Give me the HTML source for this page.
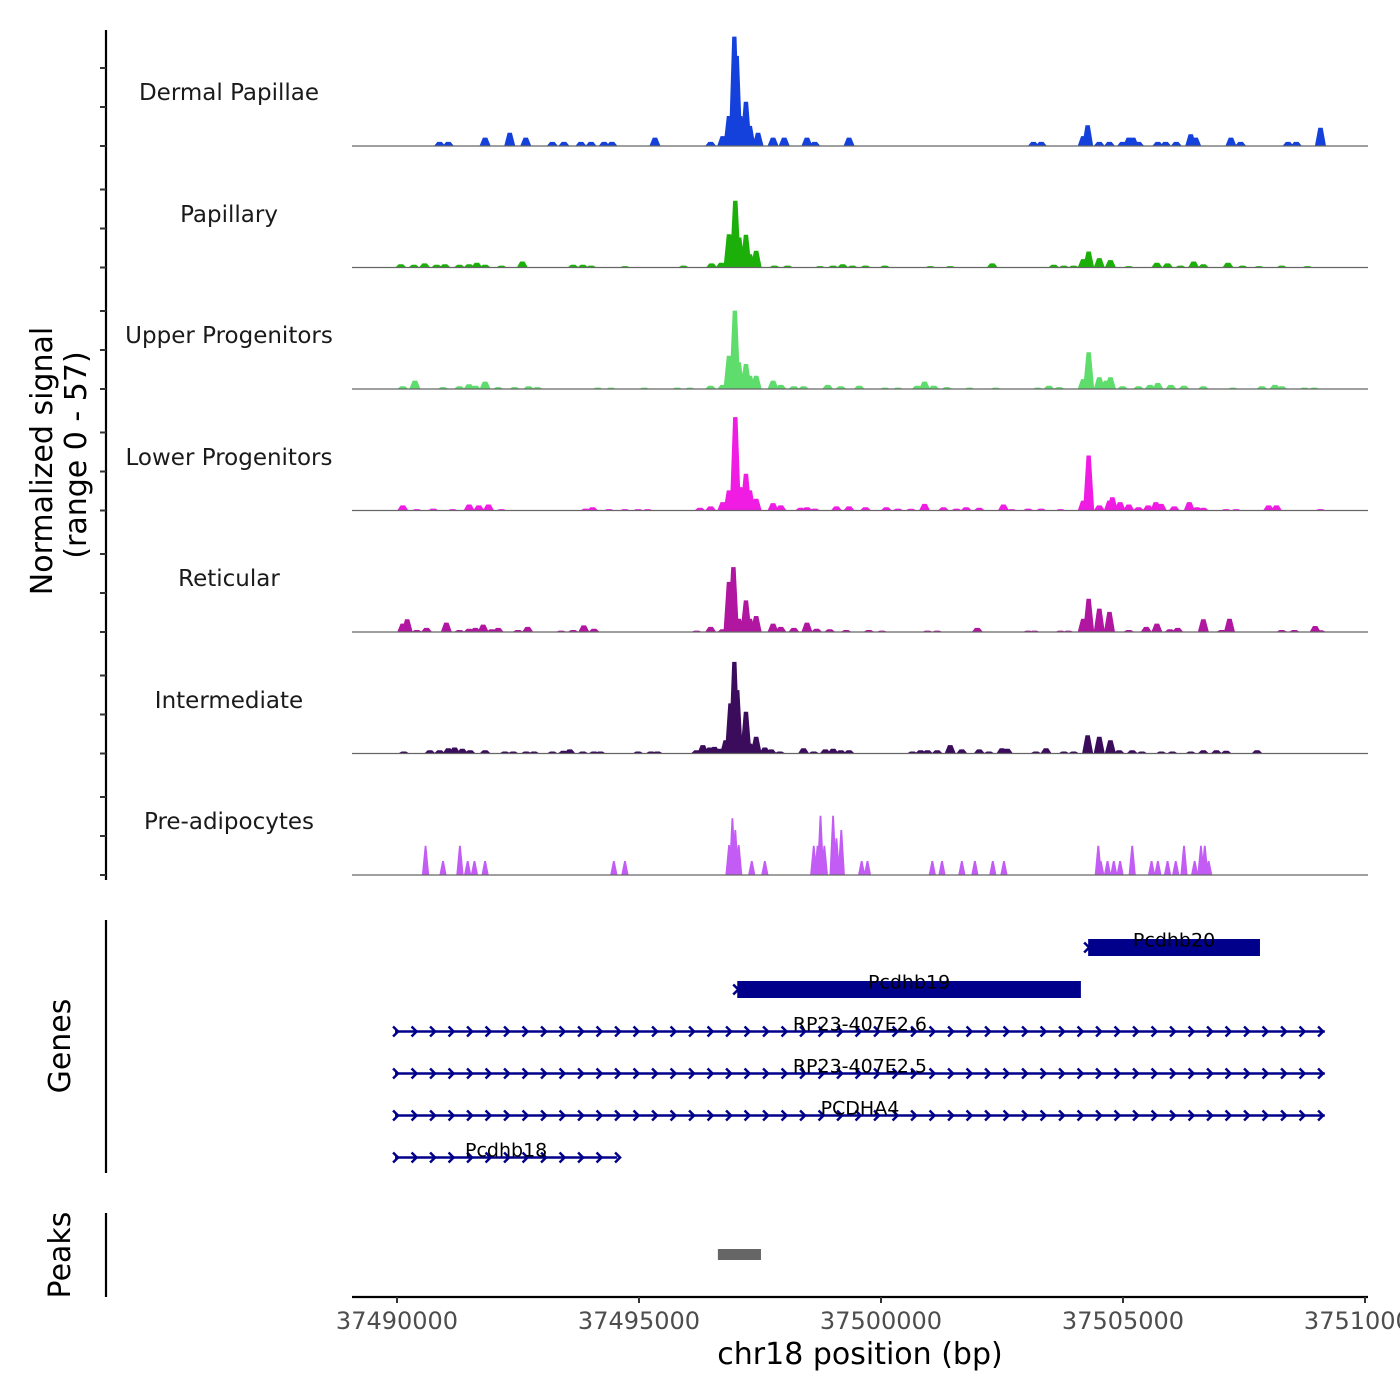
<!DOCTYPE html>
<html><head><meta charset="utf-8">
<style>
html,body{margin:0;padding:0;background:#fff;}
svg{display:block;font-family:"DejaVu Sans","Liberation Sans",sans-serif;}
</style></head>
<body>
<svg id="chart" width="1400" height="1400" viewBox="0 0 1400 1400" xmlns="http://www.w3.org/2000/svg">
  <g id="tracks"></g>
  <g id="labels"></g>
  <g id="yaxis">
    <line x1="106" y1="30" x2="106" y2="880" stroke="#000" stroke-width="2.2"/>
  </g>
  <text transform="translate(52,461) rotate(-90)" text-anchor="middle" font-size="30" fill="#000">Normalized signal</text>
  <text transform="translate(86,455) rotate(-90)" text-anchor="middle" font-size="30" fill="#000">(range 0 - 57)</text>
  <g id="genes">
    <line x1="106" y1="920" x2="106" y2="1173" stroke="#000" stroke-width="2.2"/>
  </g>
  <text transform="translate(70,1046) rotate(-90)" text-anchor="middle" font-size="30" fill="#000">Genes</text>
  <g id="peaks">
    <line x1="106" y1="1213" x2="106" y2="1297" stroke="#000" stroke-width="2.2"/>
  </g>
  <text transform="translate(70,1255) rotate(-90)" text-anchor="middle" font-size="30" fill="#000">Peaks</text>
  <g id="xaxis">
    <line x1="352" y1="1297" x2="1368" y2="1297" stroke="#000" stroke-width="2.2"/>
  </g>
  <text x="860" y="1364" text-anchor="middle" font-size="30" fill="#000">chr18 position (bp)</text>
</svg>
<script>
// ---- data ----
const trackNames = ["Dermal Papillae","Papillary","Upper Progenitors","Lower Progenitors","Reticular","Intermediate","Pre-adipocytes"];
const xTicks = [37490000,37495000,37500000,37505000,37510000];
const xTickLabels = ["37490000","37495000","37500000","37505000","37510000"];
const yTicks = [0,20,40];

const dpPos = [37490880,37491060,37491820,37492330,37492660,37493210,37493450,37493800,37494010,37494280,37494440,37495330,37496480,37496730,37496860,37496970,37497020,37497090,37497210,37497290,37497460,37497770,37498000,37498470,37498630,37499340,37503150,37503310,37504180,37504270,37504510,37504720,37504990,37505120,37505210,37505320,37505720,37505880,37506100,37506400,37506500,37507230,37507430,37508410,37508580,37509080];
const dpVal = [2.1,2.1,4.3,6.8,4.3,2.1,2.1,2.1,2.1,2.1,2.1,4.3,2.1,5.1,15.4,56.1,46.2,15.4,22.7,10.3,6.8,4.3,4.3,4.3,2.1,4.3,2.1,2.1,5.1,10.6,2.1,2.1,2.1,4.3,4.3,2.1,2.1,2.1,2.1,6.0,4.3,4.3,2.1,2.1,2.1,9.4];

const papPos = [37490080,37490350,37490570,37490820,37490990,37491290,37491490,37491650,37491820,37492160,37492590,37493640,37493840,37494010,37494710,37495920,37496500,37496700,37496860,37496990,37497070,37497210,37497290,37497420,37497800,37498070,37498740,37499010,37499210,37499410,37499680,37500080,37501020,37501430,37502300,37503570,37503780,37503980,37504180,37504290,37504510,37504740,37505120,37505700,37505920,37506190,37506460,37506660,37507170,37507470,37507810,37508280,37508810];
const papVal = [1.7,1.4,2.1,1.4,1.7,1.4,1.7,2.4,1.4,1.0,3.1,1.4,1.4,1.0,0.7,1.0,2.1,2.4,17.1,34.2,15.4,16.8,6.8,8.6,1.0,1.0,0.7,1.0,1.7,1.0,1.0,1.0,0.7,0.7,2.1,1.4,1.0,1.0,4.3,8.2,4.8,3.8,0.7,2.4,2.1,1.0,3.1,1.7,2.4,1.0,0.7,1.0,0.7];

const upPos = [37490120,37490370,37490950,37491290,37491490,37491620,37491820,37492090,37492430,37492720,37492900,37494150,37494420,37495110,37495790,37496050,37496480,37496730,37496860,37496980,37497060,37497210,37497290,37497420,37497770,37497930,37498200,37498400,37498900,37499170,37499550,37500080,37500350,37500750,37500900,37501090,37501360,37501830,37502370,37503240,37503470,37503680,37504180,37504290,37504510,37504650,37504740,37504990,37505320,37505560,37505720,37505990,37506260,37506660,37507270,37507870,37508140,37508280,37508750,37508950];
const upVal = [1.4,4.3,1.0,1.4,2.4,1.7,3.8,1.0,1.0,1.4,1.0,0.7,0.7,0.7,0.7,0.7,1.7,2.1,17.1,40.2,13.7,12.8,6.8,6.8,4.3,2.1,1.4,1.4,2.1,1.4,1.7,0.7,0.7,1.7,3.8,1.7,1.0,0.7,0.7,0.7,1.7,1.0,5.1,18.8,6.0,4.3,6.0,1.4,1.4,2.1,3.1,2.1,1.7,1.4,0.7,1.4,2.1,1.4,0.7,0.7];

const lowPos = [37490120,37490410,37490750,37491150,37491490,37491690,37491890,37492160,37493900,37494040,37494380,37494710,37494980,37495180,37496260,37496480,37496730,37496860,37496990,37497090,37497210,37497290,37497420,37497770,37497930,37498340,37498470,37498630,37499080,37499340,37499680,37500110,37500350,37500620,37500900,37501290,37501560,37501760,37502030,37502530,37502700,37503040,37503310,37503710,37504180,37504290,37504510,37504720,37504780,37504940,37505120,37505320,37505520,37505680,37505790,37506060,37506370,37506530,37506660,37507130,37507340,37508010,37508170,37509080];
const lowVal = [2.6,0.7,1.0,0.7,3.1,2.6,3.1,0.7,1.0,1.7,0.7,0.7,0.7,0.7,1.4,2.1,4.3,10.3,47.9,12.0,18.8,10.3,6.0,3.8,2.6,1.4,1.7,1.0,2.1,2.1,1.7,1.7,1.0,0.9,3.4,1.7,1.0,1.7,1.4,3.1,0.7,1.0,1.0,0.7,5.1,28.2,2.6,5.1,6.8,4.3,3.1,1.7,2.6,4.3,3.4,2.1,4.3,1.7,1.4,0.7,0.7,2.6,2.6,0.7];

const retPos = [37490120,37490210,37490410,37490610,37491020,37491290,37491490,37491620,37491780,37491960,37492090,37492500,37492700,37493390,37493640,37493860,37494070,37496190,37496480,37496730,37496860,37496950,37497060,37497210,37497290,37497420,37497770,37497930,37498200,37498470,37498670,37498940,37499280,37499750,37500020,37500960,37501160,37501990,37503040,37503170,37503710,37503870,37504180,37504290,37504510,37504720,37505120,37505480,37505700,37505970,37506130,37506660,37507040,37507200,37508280,37508540,37508970,37509080];
const retVal = [4.3,6.5,1.0,2.1,4.8,1.0,1.7,2.1,3.8,1.4,2.1,1.0,2.6,0.7,1.0,3.4,1.7,0.7,2.6,1.4,25.7,33.3,6.8,16.2,6.8,8.2,4.3,2.6,2.1,4.8,1.7,1.4,1.0,1.0,0.7,0.7,0.7,2.1,0.7,0.7,0.7,0.7,6.8,17.1,12.0,10.3,1.0,2.6,4.3,1.4,2.1,6.5,1.0,6.8,1.0,1.0,3.1,0.9];

const intPos = [37490140,37490680,37490880,37491060,37491190,37491350,37491510,37491820,37492230,37492400,37492670,37492830,37493210,37493440,37493570,37493840,37494070,37494200,37494980,37495250,37495380,37496190,37496320,37496460,37496560,37496660,37496790,37496890,37496970,37497030,37497130,37497210,37497290,37497420,37497600,37497730,37497910,37498400,37498610,37498850,37499010,37499170,37499340,37500650,37500820,37500960,37501160,37501430,37501670,37502030,37502230,37502500,37502610,37503200,37503410,37503780,37503980,37504270,37504510,37504740,37504920,37505190,37505390,37505790,37506020,37506400,37506660,37506930,37507130,37507770];
const intVal = [1.0,1.7,1.7,2.7,3.1,2.4,1.7,1.7,1.0,1.0,1.0,1.0,1.0,1.4,2.1,1.0,1.0,1.0,1.0,1.0,1.0,1.7,4.3,3.1,3.4,2.4,6.8,25.7,47.0,32.5,6.8,21.4,5.1,8.6,3.1,2.1,1.0,2.7,1.0,2.1,2.4,1.7,1.7,1.0,1.7,1.7,1.7,4.3,2.1,2.1,1.0,2.7,2.4,1.0,2.7,1.0,1.0,9.4,8.6,6.8,1.7,1.7,1.0,1.0,1.0,1.0,1.7,1.7,1.4,1.7];

const prePos = [37490590,37490950,37491300,37491460,37491600,37491820,37494480,37494710,37496860,37496930,37496990,37497060,37497330,37497600,37498610,37498690,37498750,37498830,37499010,37499080,37499180,37499600,37499720,37501060,37501260,37501670,37501940,37502310,37502540,37504490,37504540,37504680,37504810,37504940,37505190,37505590,37505720,37505920,37506090,37506260,37506480,37506610,37506690,37506770];
const preVal = [15.0,7.2,15.0,7.2,7.2,7.2,7.2,7.2,15.4,29.1,23.1,15.4,7.2,7.2,15.0,15.0,30.4,15.0,30.4,18.8,23.1,7.2,7.2,7.2,7.2,7.2,7.2,7.2,7.2,15.0,7.2,7.2,7.2,7.2,15.0,7.2,7.2,7.2,7.2,15.0,7.2,15.0,15.0,7.2];

const geneNames = ["Pcdhb20","Pcdhb19","RP23-407E2.6","RP23-407E2.5","PCDHA4","Pcdhb18"];
const geneStarts = [37504280,37497030,37489960,37489960,37489960,37489960];
const geneEnds = [37507830,37504130,37509170,37509170,37509170,37494550];
const geneThick = [true,true,false,false,false,false];

const peakStarts = [37496630];
const peakEnds = [37497520];

// ---- scales ----
const NS = "http://www.w3.org/2000/svg";
function xs(bp){ return 397 + (bp - 37490000) * 242 / 5000; }
const trackTop0 = 146, trackStep = 121.5, pxPerUnit = 1.95;
function ys(i, v){ return trackTop0 + i*trackStep - v*pxPerUnit; }
function mk(tag, attrs, parent){ const e=document.createElementNS(NS,tag); for(const k in attrs) e.setAttribute(k,attrs[k]); parent.appendChild(e); return e; }

const seriesPos = [dpPos,papPos,upPos,lowPos,retPos,intPos,prePos];
const seriesVal = [dpVal,papVal,upVal,lowVal,retVal,intVal,preVal];
const colors = ["#1440DC","#1CAF0A","#5EDC6C","#F01CE4","#B0169F","#3B0C5C","#C25CF5"];
const keys = ["dermal-papillae","papillary","upper-progenitors","lower-progenitors","reticular","intermediate","pre-adipocytes"];
const labelY = [92,214,335,457,578,700,821];

const tracksG = document.getElementById('tracks');
const labelsG = document.getElementById('labels');
const yaxisG = document.getElementById('yaxis');
for (let i=0;i<7;i++){
  const base = ys(i,0);
  const pos = seriesPos[i], val = seriesVal[i];
  const n = Math.min(pos.length,val.length);
  const hw = i===6 ? 75 : 115, tw = i===6 ? 18 : 45;
  let d = "";
  for (let k=0;k<n;k++){
    const top = ys(i,val[k]);
    d += "M"+xs(pos[k]-hw).toFixed(1)+","+base+"L"+xs(pos[k]-tw).toFixed(1)+","+top.toFixed(1)+"L"+xs(pos[k]+tw).toFixed(1)+","+top.toFixed(1)+"L"+xs(pos[k]+hw).toFixed(1)+","+base+"Z";
  }
  const p = mk('path',{d:d,fill:colors[i]},tracksG);
  
  
  const bl = mk('line',{x1:352,y1:base,x2:1368,y2:base,stroke:"#666","stroke-width":1.2},tracksG);
  
  
  const t = mk('text',{x:229,y:labelY[i]+8,"text-anchor":"middle","font-size":23,fill:"#1a1a1a"},labelsG);
  t.textContent = trackNames[i];
  
  
  for (const tv of yTicks){
    const tk = mk('line',{x1:100,y1:ys(i,tv),x2:106,y2:ys(i,tv),stroke:"#333","stroke-width":2},yaxisG);
    
    
  }
}

// genes
const genesG = document.getElementById('genes');
const rowY = [947.5,989.5,1031.5,1073.5,1115.5,1157.5];
function chevron(cx, cy, parent){
  const c = mk('polyline',{points:(cx-3)+","+(cy-5)+" "+(cx+2)+","+cy+" "+(cx-3)+","+(cy+5),fill:"none",stroke:"#00008B","stroke-width":2.5},parent);
  
  
}
for (let g=0; g<geneNames.length; g++){
  const y = rowY[g];
  const x0 = xs(geneStarts[g]), x1 = xs(geneEnds[g]);
  const grp = mk('g',{},genesG);
  
  
  if (geneThick[g]){
    mk('rect',{x:x0,y:y-8.5,width:x1-x0,height:17,fill:"#00008B"},grp);
    chevron(x0-1,y,grp);
  } else {
    mk('line',{x1:x0,y1:y,x2:x1,y2:y,stroke:"#00008B","stroke-width":2.5},grp);
    for (let cx=x0+1; cx<=x1+1; cx+=18.5) chevron(cx,y,grp);
  }
  const t = mk('text',{x:(x0+x1)/2,y:y-1,"text-anchor":"middle","font-size":19,fill:"#000"},grp);
  t.textContent = geneNames[g];
  
  
}

// peaks
const peaksG = document.getElementById('peaks');
for (let k=0;k<peakStarts.length;k++){
  const r = mk('rect',{x:xs(peakStarts[k]),y:1249,width:xs(peakEnds[k])-xs(peakStarts[k]),height:11,fill:"#666"},peaksG);
  
  
}

// x axis
const xaxisG = document.getElementById('xaxis');
for (let k=0;k<xTicks.length;k++){
  const x = xs(xTicks[k]);
  const tk = mk('line',{x1:x,y1:1297,x2:x,y2:1303,stroke:"#333","stroke-width":2},xaxisG);
  
  
  const t = mk('text',{x:x,y:1329,"text-anchor":"middle","font-size":24,fill:"#4d4d4d"},xaxisG);
  t.textContent = xTickLabels[k];
  
  
}
</script>
</body></html>
